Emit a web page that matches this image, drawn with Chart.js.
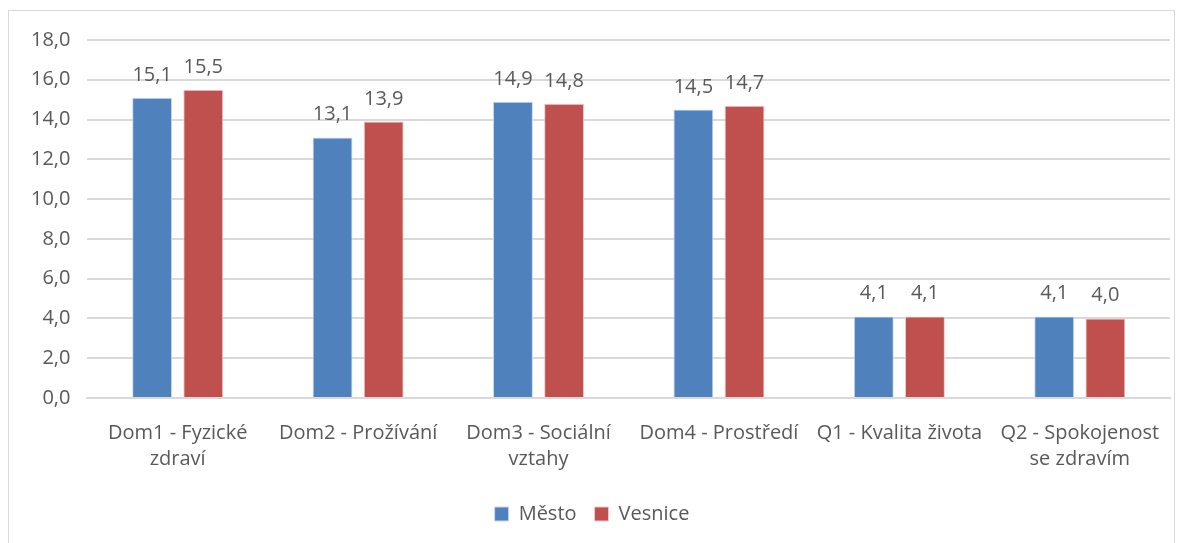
<!DOCTYPE html>
<html>
<head>
<meta charset="utf-8">
<script src="https://cdn.jsdelivr.net/npm/chart.js@4.4.0/dist/chart.umd.min.js"></script>
<style>
  html, body { margin: 0; padding: 0; background: #fff; }
  #box {
    position: absolute; left: 8px; top: 10px; width: 1167px; height: 540px;
    border: 1px solid #d9d9d9; box-sizing: border-box;
  }
  canvas { display: block; }
</style>
</head>
<body>
<div id="box"><canvas id="chart"></canvas></div>
<script>
const categories = [
  ['Dom1 - Fyzické', 'zdraví'],
  'Dom2 - Prožívání',
  ['Dom3 - Sociální', 'vztahy'],
  'Dom4 - Prostředí',
  'Q1 - Kvalita života',
  ['Q2 - Spokojenost', 'se zdravím']
];
const mesto = [15.1, 13.1, 14.9, 14.5, 4.1, 4.1];
const vesnice = [15.5, 13.9, 14.8, 14.7, 4.1, 4.0];

const textColor = '#595959';
const fontFam = '"Open Sans", "Noto Sans", sans-serif';

function cz(v) { return v.toFixed(1).replace('.', ','); }

// popisky hodnot nad sloupci
const valueLabels = {
  id: 'valueLabels',
  afterDatasetsDraw(chart) {
    const ctx = chart.ctx;
    ctx.save();
    ctx.font = '20px ' + fontFam;
    ctx.fillStyle = textColor;
    ctx.textAlign = 'center';
    ctx.textBaseline = 'alphabetic';
    chart.data.datasets.forEach((ds, i) => {
      chart.getDatasetMeta(i).data.forEach((bar, j) => {
        ctx.fillText(cz(ds.data[j]), bar.x, bar.y - 17);
      });
    });
    ctx.restore();
  }
};

new Chart(document.getElementById('chart'), {
  type: 'bar',
  data: {
    labels: categories,
    datasets: [
      { label: 'Město', data: mesto, backgroundColor: '#4f81bd', borderColor: '#c9d7ec', borderWidth: 1 },
      { label: 'Vesnice', data: vesnice, backgroundColor: '#c0504d', borderColor: '#ecc9c8', borderWidth: 1 }
    ]
  },
  options: {
    responsive: true,
    maintainAspectRatio: false,
    animation: false,
    categoryPercentage: 0.567,
    barPercentage: 0.78,
    layout: { padding: { left: 5, right: 4, top: 14, bottom: 15 } },
    plugins: {
      legend: {
        position: 'bottom',
        labels: {
          color: textColor,
          font: { size: 20, family: fontFam },
          boxWidth: 14, boxHeight: 14, padding: 18
        }
      },
      tooltip: { enabled: false }
    },
    scales: {
      x: {
        grid: { display: false },
        border: { color: '#d9d9d9', width: 2 },
        ticks: { color: textColor, font: { size: 20, family: fontFam, lineHeight: 1.3 }, maxRotation: 0, autoSkip: false, padding: 14 }
      },
      y: {
        min: 0, max: 18,
        grid: { color: '#d9d9d9', lineWidth: 2, drawTicks: false },
        border: { display: false },
        ticks: {
          stepSize: 2, color: textColor, padding: 17,
          font: { size: 20, family: fontFam },
          callback: v => cz(v)
        }
      }
    }
  },
  plugins: [valueLabels]
});
</script>
</body>
</html>
